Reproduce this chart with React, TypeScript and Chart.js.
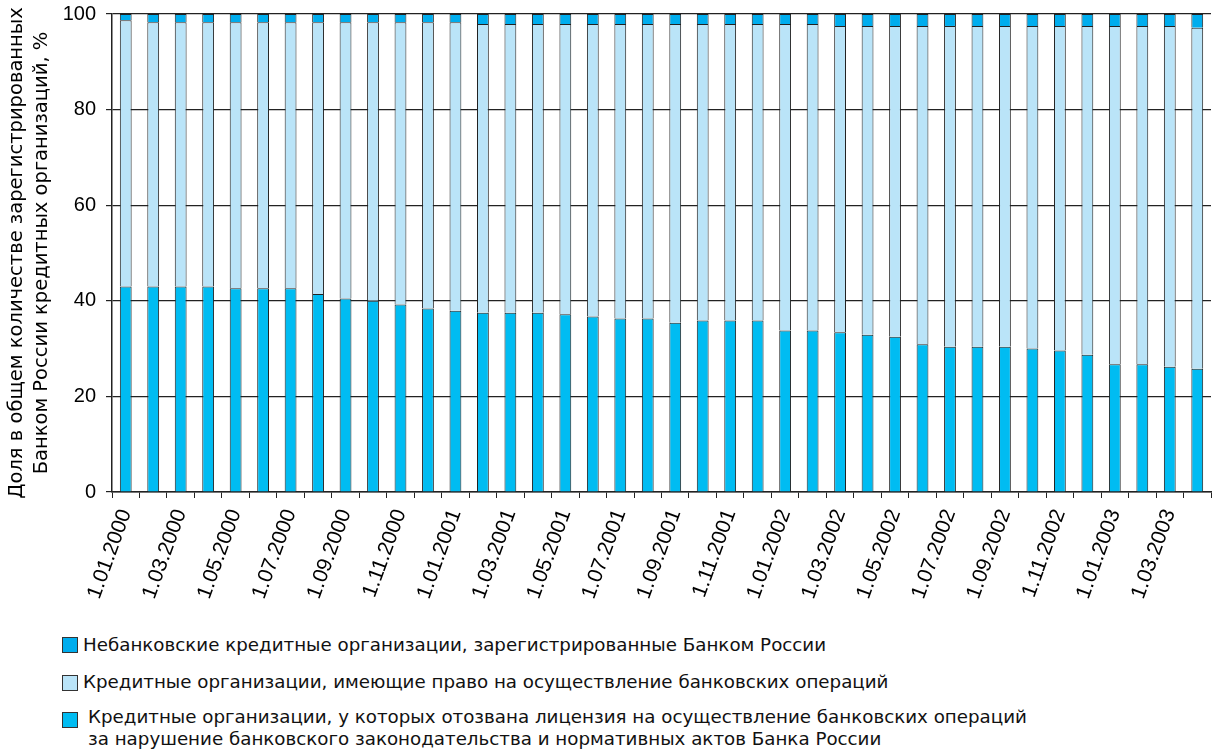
import React, { useEffect, useRef } from 'react';
import { Chart, registerables } from 'chart.js';

Chart.register(...registerables);

const months = [
  '1.01.2000', '1.02.2000', '1.03.2000', '1.04.2000', '1.05.2000', '1.06.2000', '1.07.2000', '1.08.2000',
  '1.09.2000', '1.10.2000', '1.11.2000', '1.12.2000',
  '1.01.2001', '1.02.2001', '1.03.2001', '1.04.2001', '1.05.2001', '1.06.2001', '1.07.2001', '1.08.2001',
  '1.09.2001', '1.10.2001', '1.11.2001', '1.12.2001',
  '1.01.2002', '1.02.2002', '1.03.2002', '1.04.2002', '1.05.2002', '1.06.2002', '1.07.2002', '1.08.2002',
  '1.09.2002', '1.10.2002', '1.11.2002', '1.12.2002',
  '1.01.2003', '1.02.2003', '1.03.2003', '1.04.2003',
];

// Кредитные организации, у которых отозвана лицензия (нижний сегмент)
const revoked = [
  43.0, 43.0, 43.0, 43.0, 42.6, 42.6, 42.6, 41.4, 40.5, 40.0,
  39.2, 38.4, 37.9, 37.5, 37.5, 37.5, 37.2, 36.7, 36.3, 36.3,
  35.4, 35.9, 35.9, 35.9, 33.8, 33.8, 33.4, 32.9, 32.5, 30.9,
  30.4, 30.4, 30.4, 30.0, 29.6, 28.7, 26.7, 26.7, 26.2, 25.8,
];

// Кредитные организации, имеющие право на осуществление банковских операций (средний)
const operating = [
  55.7, 55.3, 55.3, 55.3, 55.7, 55.7, 55.7, 56.9, 57.8, 58.3,
  59.1, 59.9, 60.4, 60.4, 60.4, 60.4, 60.7, 61.2, 61.6, 61.6,
  62.5, 62.0, 62.0, 62.0, 64.1, 64.1, 64.1, 64.6, 65.0, 66.6,
  67.1, 67.1, 67.1, 67.5, 67.9, 68.8, 70.8, 70.8, 71.3, 71.3,
];

// Небанковские кредитные организации (верхний)
const nonBank = [
  1.3, 1.7, 1.7, 1.7, 1.7, 1.7, 1.7, 1.7, 1.7, 1.7,
  1.7, 1.7, 1.7, 2.1, 2.1, 2.1, 2.1, 2.1, 2.1, 2.1,
  2.1, 2.1, 2.1, 2.1, 2.1, 2.1, 2.5, 2.5, 2.5, 2.5,
  2.5, 2.5, 2.5, 2.5, 2.5, 2.5, 2.5, 2.5, 2.5, 2.9,
];

const seriesNames = [
  'Небанковские кредитные организации, зарегистрированные Банком России',
  'Кредитные организации, имеющие право на осуществление банковских операций',
  'Кредитные организации, у которых отозвана лицензия на осуществление банковских операций',
];
const seriesNameCont = 'за нарушение банковского законодательства и нормативных актов Банка России';

const yTitle = ['Доля в общем количестве зарегистрированных', 'Банком России кредитных организаций, %'];

const colRevoked = '#00BCF2';
const colOperating = '#BAE4F8';
const colNonBank = '#00ADEE';
const lineCol = '#222';

export default function App() {
  const ref = useRef<HTMLCanvasElement>(null);

  useEffect(() => {
    const common = { borderColor: lineCol, borderWidth: 1, barPercentage: 0.43, categoryPercentage: 1 };
    const chart = new Chart(ref.current as HTMLCanvasElement, {
      type: 'bar',
      data: {
        labels: months,
        datasets: [
          { label: seriesNames[2], data: revoked, backgroundColor: colRevoked, ...common },
          { label: seriesNames[1], data: operating, backgroundColor: colOperating, ...common },
          { label: seriesNames[0], data: nonBank, backgroundColor: colNonBank, ...common },
        ],
      },
      options: {
        responsive: false,
        animation: false,
        layout: { padding: { top: 14, right: 2, left: 0, bottom: 0 } },
        plugins: { legend: { display: false }, tooltip: { enabled: false } },
        scales: {
          x: {
            stacked: true,
            offset: true,
            grid: { offset: true, drawOnChartArea: false, drawTicks: true, tickLength: 6, color: lineCol, lineWidth: 1 },
            border: { color: lineCol, width: 1.5 },
            ticks: {
              autoSkip: false,
              maxRotation: 70,
              minRotation: 70,
              padding: 8,
              color: '#000',
              font: { family: '"Liberation Sans", Arial, sans-serif', size: 21 },
              callback: (_v: any, i: number) => (i % 2 === 0 ? months[i] : ''),
            },
            afterFit: (s: any) => {
              s.height = 128;
              s.paddingLeft = 0;
              s.paddingRight = 0;
            },
          },
          y: {
            stacked: true,
            min: 0,
            max: 100,
            ticks: {
              stepSize: 20,
              padding: 10,
              color: '#000',
              font: { family: '"Liberation Sans", Arial, sans-serif', size: 20 },
            },
            grid: { color: lineCol, lineWidth: 1.2, tickLength: 6 },
            border: { color: lineCol, width: 1.5 },
            title: {
              display: true,
              text: yTitle,
              color: '#000',
              font: { family: '"DejaVu Sans", sans-serif', size: 19.5, lineHeight: 1.3 },
              padding: { top: 4, bottom: 0 },
            },
            afterFit: (s: any) => {
              s.width = 112;
              s.paddingTop = 0;
              s.paddingBottom = 0;
            },
          },
        },
      },
    } as any);
    return () => chart.destroy();
  }, []);

  const textStyle: React.CSSProperties = {
    position: 'absolute',
    fontFamily: '"DejaVu Sans", sans-serif',
    fontSize: 18.25,
    lineHeight: '22.3px',
    color: '#111',
    whiteSpace: 'nowrap',
  };
  const box = (top: number, color: string): React.CSSProperties => ({
    position: 'absolute',
    left: 62,
    top,
    width: 14,
    height: 14,
    background: color,
    border: '1px solid #333',
  });

  return (
    <div style={{ position: 'fixed', left: 0, top: 0, width: 1213, height: 754, background: '#fff', overflow: 'hidden' }}>
      <canvas ref={ref} width={1213} height={620} style={{ position: 'absolute', left: 0, top: 0 }} />
      <div style={box(637, colNonBank)} />
      <div style={{ ...textStyle, left: 83, top: 634 }}>{seriesNames[0]}</div>
      <div style={box(675, colOperating)} />
      <div style={{ ...textStyle, left: 83, top: 671 }}>{seriesNames[1]}</div>
      <div style={box(712, colRevoked)} />
      <div style={{ ...textStyle, left: 88, top: 705.5 }}>
        {seriesNames[2]}
        <br />
        {seriesNameCont}
      </div>
    </div>
  );
}
